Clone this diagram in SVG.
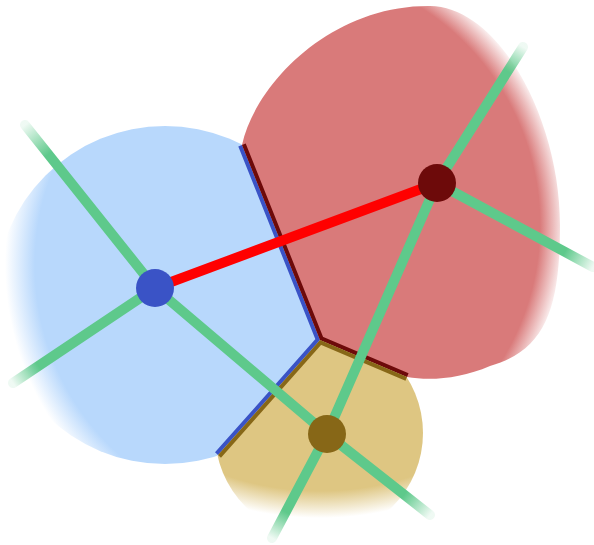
<svg xmlns="http://www.w3.org/2000/svg" width="594" height="545" viewBox="0 0 594 545">
<style>
.green{fill:none;stroke-width:10;stroke-linecap:round}
.redline{fill:none;stroke:#ff0000;stroke-width:10;stroke-linecap:butt}
.band{fill:none;stroke-width:8;stroke-linejoin:miter;stroke-linecap:butt}
</style>
<defs>
<radialGradient id="gBlue" gradientUnits="userSpaceOnUse" cx="290" cy="265" r="285">
<stop offset="0.895" stop-color="#b8d8fc" stop-opacity="1"/>
<stop offset="1" stop-color="#b8d8fc" stop-opacity="0"/>
</radialGradient>
<radialGradient id="gRed" gradientUnits="userSpaceOnUse" cx="282" cy="225" r="285">
<stop offset="0.905" stop-color="#d97a7a" stop-opacity="1"/>
<stop offset="1" stop-color="#d97a7a" stop-opacity="0"/>
</radialGradient>
<radialGradient id="gBrown" gradientUnits="userSpaceOnUse" cx="320" cy="200" r="318">
<stop offset="0.915" stop-color="#dec682" stop-opacity="1"/>
<stop offset="1" stop-color="#dec682" stop-opacity="0"/>
</radialGradient>
<linearGradient id="s1" gradientUnits="userSpaceOnUse" x1="155" y1="288" x2="25" y2="125"><stop offset="0.82" stop-color="#5ec98b"/><stop offset="1" stop-color="#5ec98b" stop-opacity="0.1"/></linearGradient>
<linearGradient id="s2" gradientUnits="userSpaceOnUse" x1="155" y1="288" x2="13" y2="383"><stop offset="0.82" stop-color="#5ec98b"/><stop offset="1" stop-color="#5ec98b" stop-opacity="0.1"/></linearGradient>
<linearGradient id="s3" gradientUnits="userSpaceOnUse" x1="437" y1="183" x2="523" y2="47"><stop offset="0.82" stop-color="#5ec98b"/><stop offset="1" stop-color="#5ec98b" stop-opacity="0.1"/></linearGradient>
<linearGradient id="s4" gradientUnits="userSpaceOnUse" x1="437" y1="183" x2="593" y2="267"><stop offset="0.82" stop-color="#5ec98b"/><stop offset="1" stop-color="#5ec98b" stop-opacity="0.1"/></linearGradient>
<linearGradient id="s5" gradientUnits="userSpaceOnUse" x1="327" y1="434" x2="272" y2="538"><stop offset="0.75" stop-color="#5ec98b"/><stop offset="1" stop-color="#5ec98b" stop-opacity="0.1"/></linearGradient>
<linearGradient id="s6" gradientUnits="userSpaceOnUse" x1="327" y1="434" x2="430" y2="515"><stop offset="0.75" stop-color="#5ec98b"/><stop offset="1" stop-color="#5ec98b" stop-opacity="0.1"/></linearGradient>
<clipPath id="cBlue"><polygon points="0,0 184,0 242,145 320,340 218,455 138,545 0,545"/></clipPath>
<clipPath id="cRed"><polygon points="184,0 594,0 594,457 407,377 320,340 242,145"/></clipPath>
<clipPath id="cBrown"><polygon points="138,545 218,455 320,340 407,377 594,457 594,545"/></clipPath>
</defs>

<g id="region-blue">
<circle cx="165" cy="295" r="169" fill="url(#gBlue)" clip-path="url(#cBlue)"/>
</g>
<g id="region-red">
<path d="M242,145 C255,85 330,5 430,6 C500,7 560,120 560,225 C560,310 545,350 490,366 C460,379 430,381 407,377 L320,340 Z" fill="url(#gRed)"/>
</g>
<g id="region-brown">
<circle cx="319" cy="433" r="104" fill="url(#gBrown)" clip-path="url(#cBrown)"/>
</g>

<g id="borders">
<polyline class="band" points="242,145 320,340 218,455" stroke="#3a53c6" clip-path="url(#cBlue)"/>
<polyline class="band" points="242,145 320,340 407,377" stroke="#6d0a0a" clip-path="url(#cRed)"/>
<polyline class="band" points="218,455 320,340 407,377" stroke="#876717" clip-path="url(#cBrown)"/>
</g>

<g id="connectors">
<line class="green" x1="155" y1="288" x2="25" y2="125" stroke="url(#s1)"/>
<line class="green" x1="155" y1="288" x2="13" y2="383" stroke="url(#s2)"/>
<line class="green" x1="437" y1="183" x2="523" y2="47" stroke="url(#s3)"/>
<line class="green" x1="437" y1="183" x2="593" y2="267" stroke="url(#s4)"/>
<line class="green" x1="327" y1="434" x2="272" y2="538" stroke="url(#s5)"/>
<line class="green" x1="327" y1="434" x2="430" y2="515" stroke="url(#s6)"/>
<line class="green" x1="155" y1="288" x2="327" y2="434" stroke="#5ec98b"/>
<line class="green" x1="437" y1="183" x2="327" y2="434" stroke="#5ec98b"/>
<line class="redline" x1="155" y1="288" x2="437" y2="183"/>
</g>

<g id="node-blue"><circle cx="155" cy="288" r="19" fill="#3a53c6"/></g>
<g id="node-red"><circle cx="437" cy="183" r="19" fill="#6d0a0a"/></g>
<g id="node-brown"><circle cx="327" cy="434" r="19" fill="#876717"/></g>
</svg>
